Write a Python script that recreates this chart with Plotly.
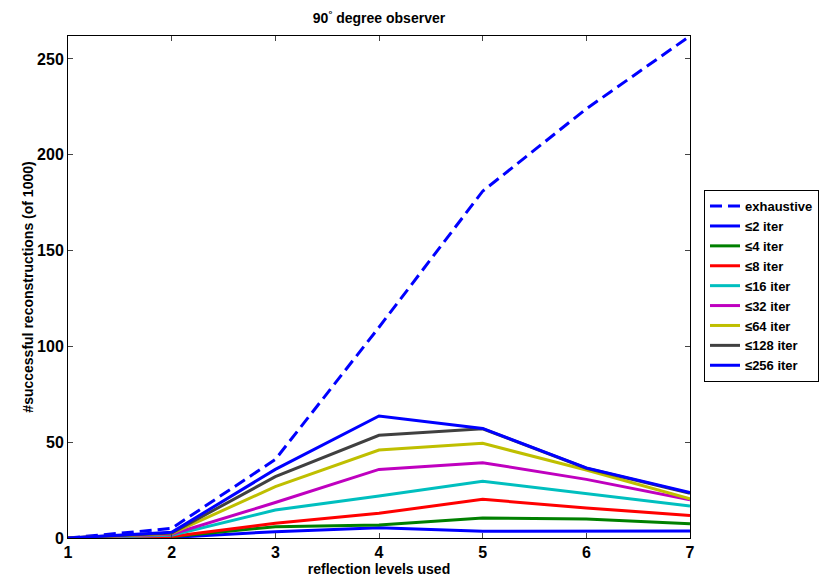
import plotly.graph_objects as go

levels = [1, 2, 3, 4, 5, 6, 7]
names = ["exhaustive", "≤2 iter", "≤4 iter", "≤8 iter", "≤16 iter",
         "≤32 iter", "≤64 iter", "≤128 iter", "≤256 iter"]
exhaustive = [0, 5, 41, 110, 181, 224, 262]
it2 = [0, 0.3, 3.3, 5.4, 3.5, 3.6, 3.6]
it4 = [0, 0.6, 5.9, 6.8, 10.4, 9.9, 7.5]
it8 = [0, 0.8, 7.7, 12.9, 20.2, 15.7, 11.8]
it16 = [0, 1.5, 14.6, 21.9, 29.6, 23.3, 16.7]
it32 = [0, 2.0, 18.5, 35.8, 39.3, 30.6, 20.0]
it64 = [0, 2.3, 26.8, 45.9, 49.4, 35.5, 20.5]
it128 = [0, 2.6, 32.0, 53.6, 57.0, 36.4, 23.3]
it256 = [0, 3.0, 35.8, 63.7, 57.2, 36.6, 23.7]

series = [exhaustive, it2, it4, it8, it16, it32, it64, it128, it256]
colors = ["#0000FF", "#0000FF", "#008000", "#FF0000", "#00BFBF",
          "#BF00BF", "#BFBF00", "#404040", "#0000FF"]
dashes = ["12px,6px"] + ["solid"] * 8

FONT = "Liberation Sans Narrow, Liberation Sans, Arial, sans-serif"

fig = go.Figure()
for n, s, c, d in zip(names, series, colors, dashes):
    fig.add_trace(go.Scatter(x=levels, y=s, name=n, mode="lines",
                             line=dict(color=c, width=3, dash=d)))

fig.update_layout(
    width=835, height=579,
    margin=dict(l=68, r=145, t=36, b=41, autoexpand=False),
    plot_bgcolor="white", paper_bgcolor="white",
    font=dict(family=FONT, size=15, color="black", weight="bold"),
    title=dict(text="90<sup>°</sup> degree observer", x=(68 + 311) / 835, xanchor="center",
               y=1 - 18 / 579, yanchor="middle",
               font=dict(family=FONT, size=14, color="black", weight="bold")),
    legend=dict(x=1.0225, y=0.693, xanchor="left", yanchor="top",
                bordercolor="black", borderwidth=1, bgcolor="white",
                font=dict(family=FONT, size=13, color="black", weight="bold"),
                tracegroupgap=0),
    showlegend=True,
)
fig.update_xaxes(range=[1, 7], tickvals=levels, ticks="inside", ticklen=5,
                 showgrid=False, zeroline=False, showline=True, linecolor="black",
                 linewidth=1, mirror="ticks", automargin=False,
                 title=dict(text="reflection levels used", standoff=0,
                            font=dict(family=FONT, size=14, weight="bold")),
                 tickfont=dict(family=FONT, size=16, weight="bold"))
fig.update_yaxes(range=[0, 262], tickvals=[0, 50, 100, 150, 200, 250], ticks="inside",
                 ticklen=5, showgrid=False, zeroline=False, showline=True,
                 linecolor="black", linewidth=1, mirror="ticks", automargin=False,
                 title=dict(text="#successful reconstructions (of 1000)", standoff=0,
                            font=dict(family=FONT, size=14, weight="bold")),
                 tickfont=dict(family=FONT, size=16, weight="bold"))

fig.write_html("out.html")
